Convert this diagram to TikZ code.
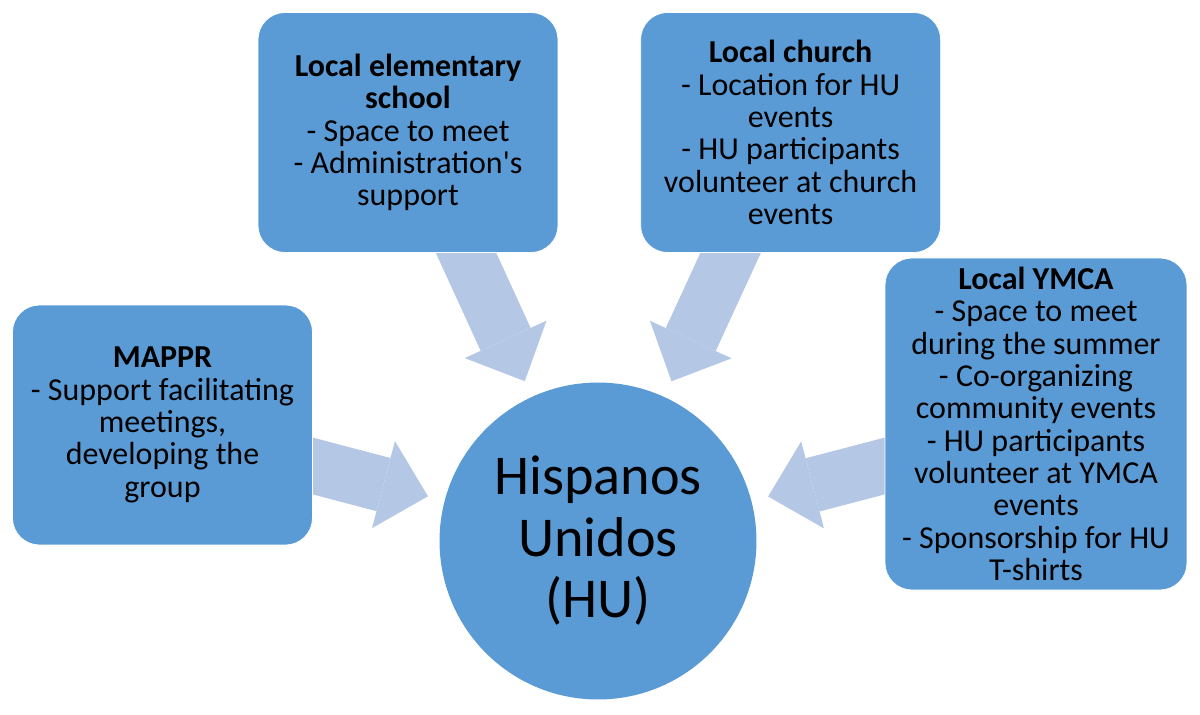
\documentclass[tikz,border=0pt]{standalone}
\usepackage{fontspec}
\setmainfont{Carlito}
\usetikzlibrary{arrows.meta, calc}
\usetikzlibrary{positioning}
\pgfdeclarelayer{background}
\pgfsetlayers{background,main}
\definecolor{hublue}{HTML}{5B9BD5}
\definecolor{arrowblue}{HTML}{B4C8E6}

\begin{document}
\begin{tikzpicture}[
	x = 0.02cm, y = -0.02cm, % one unit = one pixel of the sketch
	node distance = 1.64cm, % gap between the two top boxes
	font = \fontsize{18.2}{18.4}\selectfont
	]
	
	\tikzstyle{partner}=[
	draw = white,
	fill = hublue,
	rounded corners = 0.54cm,
	align = center,
	minimum width = 6cm,
	minimum height = 4.8cm
	]
	
	\tikzstyle{support}=[
	arrowblue,
	line width = 1.1cm,
	-{Triangle[width=1.8cm, length=0.92cm, line width=0pt]},
	shorten < = -0.4cm, % start hidden behind the box
	shorten > = 0.34cm % leave a gap to the circle
	]
	
	\useasboundingbox (0,0) rectangle (1200,714);
	
	\node[circle, fill=hublue, minimum size=6.34cm, align=center,
		font=\fontsize{32}{35}\selectfont] (hu) at (598,541) {Hispanos\\Unidos\\(HU)};
	
	\node[partner] (school) at (408,132.5) {{\bfseries Local elementary}\\{\bfseries school}\\- Space to meet\\- Administration\textquotesingle s\\support};
	\node[partner] (church) [right=of school] {{\bfseries Local church}\\- Location for HU\\events\\- HU participants\\volunteer at church\\events};
	\node[partner] (mappr) at (162.5,425) {{\bfseries MAPPR}\\- Support facilitating\\meetings,\\developing the\\group};
	\node[partner, minimum width=6.04cm, minimum height=6.64cm] (ymca) at (1036,424) {{\bfseries Local YMCA}\\- Space to meet\\during the summer\\- Co-organizing\\community events\\- HU participants\\volunteer at YMCA\\events\\- Sponsorship for HU\\T-shirts};
	
	\begin{pgfonlayer}{background}
	\draw[support] ($(school.south)+(58,0)$) -- (hu);
	\draw[support] ($(church.south)+(-60,0)$) -- (hu);
	\draw[support] ($(mappr.east)+(0,41)$) -- (hu);
	\draw[support] ($(ymca.west)+(0,42)$) -- (hu);
	\end{pgfonlayer}
	
\end{tikzpicture}
\end{document}
